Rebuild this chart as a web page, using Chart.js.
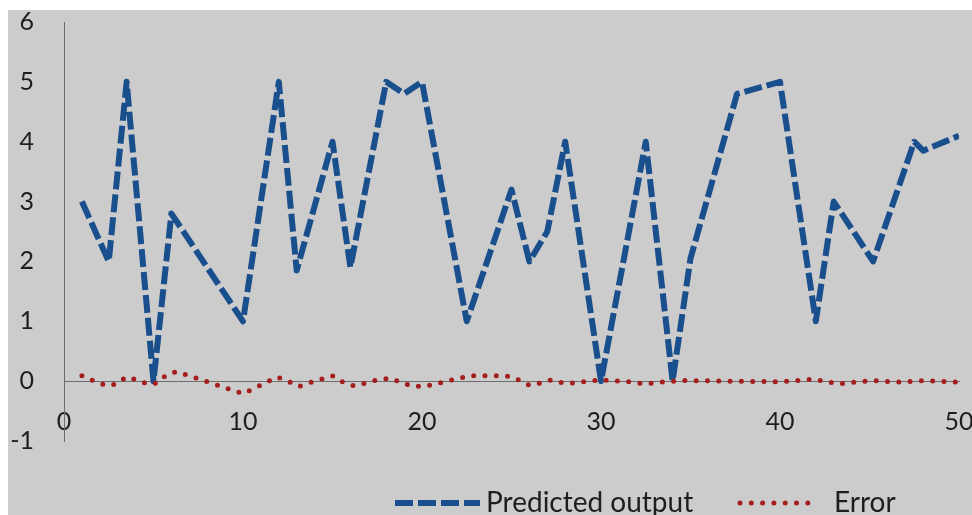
<!DOCTYPE html>
<html>
<head>
<meta charset="utf-8">
<script src="https://cdn.jsdelivr.net/npm/chart.js@4.4.0/dist/chart.umd.min.js"></script>
<style>
  html, body { margin: 0; padding: 0; background: #fff; }
  #wrap { position: absolute; left: 8px; top: 10px; width: 964px; height: 505px; background: #cccccc; overflow: hidden; }
  canvas { display: block; }
</style>
</head>
<body>
<div id="wrap"><canvas id="chart" width="964" height="505"></canvas></div>
<script>
  // predicted output (blue dashed)
  const predX = [1, 2.5, 3.5, 5, 6, 10, 12, 13, 15, 16, 18, 19, 20, 22.5, 25, 26, 27, 28, 30, 32.5, 34, 35, 37.6, 40, 42, 43, 45.2, 47.5, 48, 50];
  const predY = [3, 2, 5, 0, 2.8, 1, 5, 1.85, 4, 1.9, 5, 4.8, 5, 1, 3.2, 2, 2.5, 4, 0, 4, 0, 2.05, 4.8, 5, 1, 3, 2, 4, 3.85, 4.1];

  // error (red dotted)
  const errX = [1, 1.7, 2.4, 2.9, 3.5, 4.1, 4.7, 5.2, 5.7, 6.3, 6.9, 8.2, 10, 11.9, 12.5, 13.1, 13.7, 15, 15.6, 16.2, 17.5, 18.2, 19.4, 20.1, 21.4, 22.7, 24.7, 25.4, 26, 26.6, 27.2, 27.9, 28.5, 29.9, 31.2, 32.5, 33.2, 34.5, 40, 41.3, 41.9, 42.6, 43.3, 44.6, 45.3, 46.6, 47.9, 48.6, 50];
  const errY = [0.09, 0, -0.08, -0.05, 0.07, 0.02, -0.05, -0.03, 0.1, 0.16, 0.1, -0.03, -0.21, 0.07, 0, -0.09, -0.03, 0.09, -0.02, -0.08, 0.02, 0.05, -0.08, -0.09, 0, 0.09, 0.09, 0.02, -0.07, -0.03, 0.02, -0.03, -0.03, 0.02, 0, -0.045, -0.02, 0.01, -0.01, 0.017, 0.035, -0.01, -0.045, -0.005, 0.01, -0.017, 0.005, 0, -0.017];

  const seriesNames = ['Predicted output', 'Error'];
  const xMin = 0, xMax = 50, xStep = 10;
  const yMin = -1, yMax = 6, yStep = 1;

  const textColor = '#1e1e1e';
  const axisColor = '#6e6e6e';
  const tickFont = { family: 'Lato', size: 25, lineHeight: 1 };

  // legend drawn by hand so it sits where the original one does
  const legendSpots = [
    { x0: 387, x1: 472, tx: 478 },
    { x0: 732, x1: 800, tx: 826 }
  ];
  const bottomLegend = {
    id: 'bottomLegend',
    afterDraw(chart) {
      const ctx = chart.ctx;
      const y = 493;
      chart.data.datasets.forEach((ds, i) => {
        const spot = legendSpots[i];
        ctx.save();
        ctx.strokeStyle = ds.borderColor;
        ctx.lineWidth = ds.borderWidth;
        ctx.lineCap = ds.borderCapStyle || 'butt';
        ctx.setLineDash(ds.borderDash || []);
        ctx.beginPath();
        ctx.moveTo(spot.x0, y);
        ctx.lineTo(spot.x1, y);
        ctx.stroke();
        ctx.setLineDash([]);
        ctx.fillStyle = textColor;
        ctx.font = '28px Lato';
        ctx.textBaseline = 'alphabetic';
        ctx.fillText(ds.label, spot.tx, 502);
        ctx.restore();
      });
    }
  };

  const ctx = document.getElementById('chart').getContext('2d');
  new Chart(ctx, {
    type: 'line',
    data: {
      datasets: [{
        label: seriesNames[0],
        data: predX.map((x, i) => ({ x: x, y: predY[i] })),
        borderColor: '#1a4f8d',
        borderWidth: 6,
        borderDash: [18, 5],
        borderCapStyle: 'butt',
        borderJoinStyle: 'round',
        pointRadius: 0,
        tension: 0,
        fill: false,
        order: 1
      }, {
        label: seriesNames[1],
        data: errX.map((x, i) => ({ x: x, y: errY[i] })),
        borderColor: '#a51e1e',
        borderWidth: 5,
        borderDash: [0, 11.3],
        borderCapStyle: 'round',
        borderJoinStyle: 'round',
        pointRadius: 0,
        tension: 0,
        fill: false,
        order: 0
      }]
    },
    options: {
      responsive: false,
      animation: false,
      layout: { padding: { top: 12, right: 13, bottom: 74, left: 0 } },
      plugins: {
        legend: { display: false },
        tooltip: { enabled: false }
      },
      scales: {
        x: {
          type: 'linear',
          min: xMin,
          max: xMax,
          position: { y: 0 },
          grid: { display: false, drawTicks: false },
          border: { display: true, color: axisColor, width: 1 },
          ticks: { stepSize: xStep, padding: 28, color: textColor, font: tickFont, maxRotation: 0 },
          afterFit(scale) { scale.paddingLeft = 0; scale.paddingRight = 0; }
        },
        y: {
          min: yMin,
          max: yMax,
          grid: { display: false, drawTicks: false },
          border: { display: true, color: axisColor, width: 1 },
          ticks: { stepSize: yStep, padding: 30, color: textColor, font: tickFont },
          afterFit(scale) { scale.width = 56; scale.paddingTop = 12; scale.paddingBottom = 12; }
        }
      }
    },
    plugins: [bottomLegend]
  });
</script>
</body>
</html>
